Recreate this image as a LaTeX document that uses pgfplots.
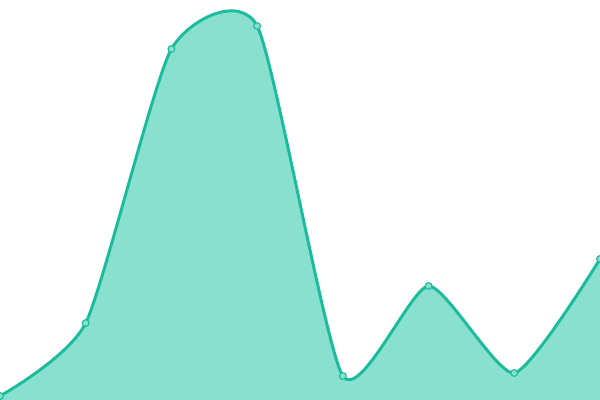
\documentclass[border=0pt]{standalone}
\usepackage{pgfplots}
\pgfplotsset{compat=1.18}
\definecolor{lineC}{RGB}{26,188,156}
\definecolor{fillC}{RGB}{138,224,207}
\begin{document}
\begin{tikzpicture}
\begin{axis}[
  width=15cm, height=10cm, scale only axis,
  hide axis,
  xmin=0, xmax=7, ymin=0, ymax=400,
  clip marker paths=true,
]
\addplot[draw=none, fill=fillC, smooth, tension=0.36]
coordinates {(0,4) (1,77) (2,351) (3,374) (4,24) (5,114) (6,27) (7,141)} \closedcycle;
\addplot[draw=lineC, line width=2.1pt, smooth, tension=0.36,
  mark=*, mark size=2.4pt, mark options={fill=fillC, draw=lineC, line width=0.8pt}]
coordinates {(0,4) (1,77) (2,351) (3,374) (4,24) (5,114) (6,27) (7,141)};
\end{axis}
\pgfresetboundingbox
\path (current axis.south west) rectangle (current axis.north east);
\end{tikzpicture}
\end{document}
